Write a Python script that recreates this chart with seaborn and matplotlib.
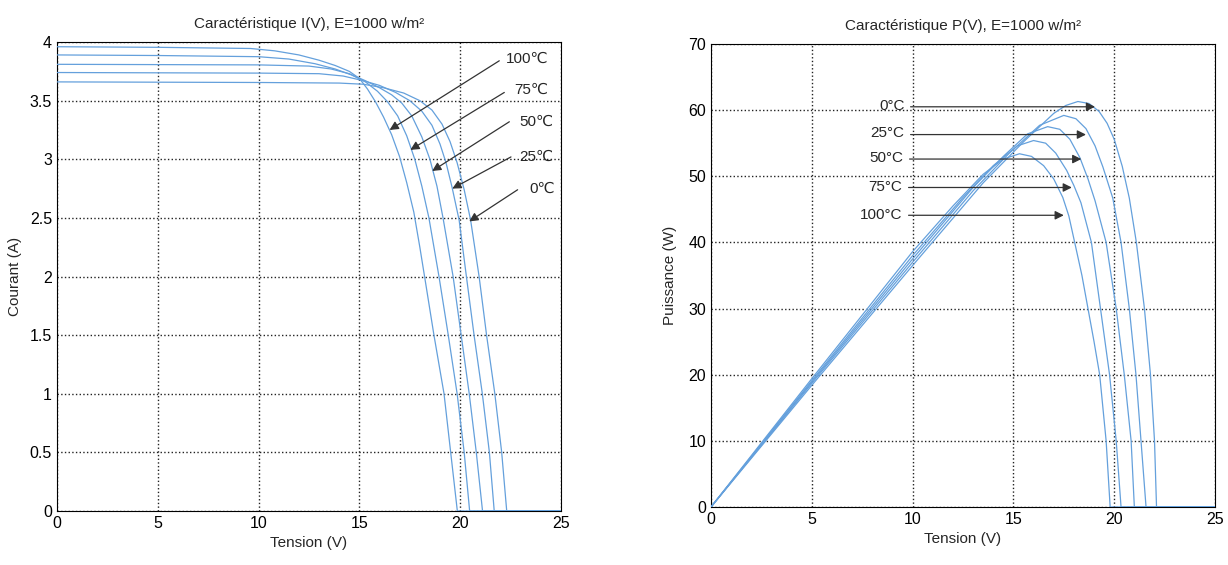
import numpy as np
import pandas as pd
import matplotlib
matplotlib.use("Agg")
import matplotlib.pyplot as plt
import seaborn as sns

# ==========================================
# DATA
# ==========================================
TEMPS = [0, 25, 50, 75, 100]

# I(V) curves, E = 1000 W/m2
IV_V_0 = [0, 10, 14, 15.2, 16.2, 17.2, 18.0, 18.6, 19.1, 19.5, 19.85, 20.2, 20.52, 20.94, 21.31, 21.72, 22.06, 22.31, 25]
IV_I_0 = [3.66, 3.655, 3.65, 3.64, 3.61, 3.565, 3.5, 3.42, 3.3, 3.15, 2.97, 2.74, 2.48, 2.0, 1.5, 1.0, 0.5, 0, 0]

IV_V_25 = [0, 10, 13, 14.2, 15.2, 16.0, 16.8, 17.5, 18.1, 18.6, 19.0, 19.3, 19.6, 19.95, 20.31, 20.69, 21.1, 21.45, 21.69, 25]
IV_I_25 = [3.74, 3.735, 3.73, 3.71, 3.67, 3.63, 3.57, 3.5, 3.41, 3.29, 3.13, 2.97, 2.76, 2.48, 2.0, 1.5, 1.0, 0.5, 0, 0]

IV_V_50 = [0, 10, 12.5, 13.6, 14.5, 15.3, 16.0, 16.6, 17.1, 17.6, 18.1, 18.5, 18.85, 19.15, 19.65, 20.05, 20.45, 20.8, 21.11, 25]
IV_I_50 = [3.81, 3.805, 3.795, 3.77, 3.73, 3.67, 3.61, 3.55, 3.48, 3.37, 3.19, 3.0, 2.77, 2.5, 2.0, 1.5, 1.0, 0.5, 0, 0]

IV_V_75 = [0, 5, 10, 11.5, 12.8, 13.8, 14.6, 15.3, 15.9, 16.4, 16.9, 17.35, 17.75, 18.1, 18.45, 18.95, 19.41, 19.85, 20.2, 20.47, 25]
IV_I_75 = [3.89, 3.885, 3.875, 3.855, 3.815, 3.77, 3.72, 3.66, 3.58, 3.49, 3.37, 3.2, 3.0, 2.77, 2.5, 2.0, 1.5, 1.0, 0.5, 0, 0]

IV_V_100 = [0, 5, 9.6, 10.8, 12, 13, 13.8, 14.5, 15.0, 15.4, 15.8, 16.2, 16.6, 17.0, 17.35, 17.7, 18.0, 18.3, 18.7, 19.2, 19.53, 19.86, 25]
IV_I_100 = [3.96, 3.955, 3.945, 3.925, 3.89, 3.845, 3.80, 3.75, 3.69, 3.60, 3.49, 3.36, 3.21, 3.02, 2.8, 2.55, 2.25, 1.93, 1.5, 1.0, 0.5, 0, 0]

# P(V) curves, E = 1000 W/m2
PV_V_0 = [0, 5, 10, 13.5, 15.5, 17, 17.6, 18.2, 18.75, 19.25, 19.65, 20.0, 20.4, 20.75, 21.1, 21.5, 21.8, 22.0, 22.1, 25]
PV_P_0 = [0, 18.4, 36.5, 49.0, 55.2, 59.5, 60.7, 61.3, 61.0, 59.8, 58.0, 55.6, 51.5, 46.7, 40, 30, 20, 10, 0, 0]

PV_V_25 = [0, 5, 10, 13, 14.8, 16.3, 17.5, 18.1, 18.6, 19.05, 19.44, 19.93, 20.34, 20.75, 21.08, 21.33, 21.58, 25]
PV_P_25 = [0, 18.7, 37.0, 47.8, 53.5, 57.7, 59.2, 58.7, 57.2, 54.6, 51.4, 46.7, 40, 30, 20, 10, 0, 0]

PV_V_50 = [0, 5, 10, 13, 14.5, 15.7, 16.7, 17.3, 17.8, 18.3, 18.7, 19.05, 19.6, 20.1, 20.5, 20.84, 21.0, 25]
PV_P_50 = [0, 18.9, 37.5, 48.3, 53.0, 56.4, 57.5, 57.1, 55.6, 52.8, 49.6, 46.3, 40, 30, 20, 10, 0, 0]

PV_V_75 = [0, 5, 10, 12.5, 14, 15.2, 16.0, 16.6, 17.1, 17.64, 18.0, 18.35, 18.87, 19.32, 19.77, 20.1, 20.34, 25]
PV_P_75 = [0, 19.1, 38.0, 46.8, 51.6, 54.6, 55.4, 55.0, 53.5, 50.9, 48.6, 46.0, 40, 30, 20, 10, 0, 0]

PV_V_100 = [0, 5, 10, 12, 13.5, 14.5, 15.3, 15.9, 16.5, 17.0, 17.45, 17.75, 18.04, 18.4, 18.7, 19.0, 19.28, 19.6, 19.8, 25]
PV_P_100 = [0, 19.4, 38.6, 45.5, 50.3, 52.6, 53.4, 53.0, 51.6, 49.6, 46.8, 44.0, 40, 35, 30, 25, 20, 10, 0, 0]

# annotation anchors (label position, arrow start, arrow tip) in data units
IV_LABELS = ['100℃', '75℃', '50℃', '25℃', '0℃']
IV_LABEL_XY = [(22.27, 3.86), (22.69, 3.59), (22.94, 3.32), (22.94, 3.02), (23.44, 2.75)]
IV_ARROW_FROM = [(21.94, 3.84), (22.19, 3.57), (22.44, 3.32), (22.52, 3.02), (22.85, 2.74)]
IV_ARROW_TO = [(16.5, 3.25), (17.53, 3.08), (18.61, 2.90), (19.61, 2.75), (20.45, 2.47)]

PV_LABELS = ['0°C', '25°C', '50°C', '75°C', '100°C']
PV_LABEL_XY = [(9.6, 60.6), (9.6, 56.5), (9.55, 52.7), (9.5, 48.3), (9.5, 44.2)]
PV_ARROW_FROM = [(9.9, 60.5), (9.9, 56.3), (9.85, 52.6), (9.8, 48.3), (9.8, 44.1)]
PV_ARROW_TO = [(19.05, 60.5), (18.6, 56.3), (18.37, 52.6), (17.9, 48.3), (17.5, 44.1)]

CURVE_COLOR = '#64a0dc'

# ==========================================
# BUILD LONG TABLES FOR SEABORN
# ==========================================
iv_sets = {0: (IV_V_0, IV_I_0), 25: (IV_V_25, IV_I_25), 50: (IV_V_50, IV_I_50),
           75: (IV_V_75, IV_I_75), 100: (IV_V_100, IV_I_100)}
pv_sets = {0: (PV_V_0, PV_P_0), 25: (PV_V_25, PV_P_25), 50: (PV_V_50, PV_P_50),
           75: (PV_V_75, PV_P_75), 100: (PV_V_100, PV_P_100)}

iv_rows = []
for t in TEMPS:
    for v, i in zip(*iv_sets[t]):
        iv_rows.append({'Tension': v, 'Courant': i, 'Temp': t})
df_iv = pd.DataFrame(iv_rows)

pv_rows = []
for t in TEMPS:
    for v, p in zip(*pv_sets[t]):
        pv_rows.append({'Tension': v, 'Puissance': p, 'Temp': t})
df_pv = pd.DataFrame(pv_rows)

# ==========================================
# PLOT
# ==========================================
sns.set_style("white")
plt.rcParams['font.family'] = ['Liberation Sans', 'DejaVu Sans']
plt.rcParams['font.size'] = 11

fig = plt.figure(figsize=(12.28, 5.65), dpi=100)
ax1 = fig.add_axes([0.0464, 0.0956, 0.4104, 0.830])
ax2 = fig.add_axes([0.579, 0.1027, 0.4104, 0.8195])

palette = {t: CURVE_COLOR for t in TEMPS}

sns.lineplot(data=df_iv, x='Tension', y='Courant', hue='Temp', palette=palette,
             estimator=None, sort=False, legend=False, linewidth=0.9, ax=ax1, zorder=3)
sns.lineplot(data=df_pv, x='Tension', y='Puissance', hue='Temp', palette=palette,
             estimator=None, sort=False, legend=False, linewidth=0.9, ax=ax2, zorder=3)

arrow_kw = dict(arrowstyle='-|>', color='#333333', lw=0.9, mutation_scale=13, shrinkA=0, shrinkB=0)

for ax in (ax1, ax2):
    ax.set_xlim(0, 25)
    ax.set_xticks([0, 5, 10, 15, 20, 25])
    ax.grid(True, linestyle=':', color='#222222', linewidth=1.0)
    ax.tick_params(direction='in', length=3, labelsize=11.5, colors='black')
    for s in ax.spines.values():
        s.set_color('black')
        s.set_linewidth(0.8)
    ax.set_xlabel('Tension (V)', fontsize=11, labelpad=4)

ax1.set_ylim(0, 4)
ax1.set_yticks(np.arange(0, 4.01, 0.5))
ax1.set_yticklabels(['0', '0.5', '1', '1.5', '2', '2.5', '3', '3.5', '4'])
ax1.set_ylabel('Courant (A)', fontsize=11, labelpad=6)
ax1.set_title('Caractéristique I(V), E=1000 w/m²', fontsize=11, pad=10)

ax2.set_ylim(0, 70)
ax2.set_yticks(range(0, 71, 10))
ax2.set_ylabel('Puissance (W)', fontsize=11, labelpad=8)
ax2.set_title('Caractéristique P(V), E=1000 w/m²', fontsize=11, pad=10)

for lab, xy, a0, a1 in zip(IV_LABELS, IV_LABEL_XY, IV_ARROW_FROM, IV_ARROW_TO):
    ax1.annotate('', xy=a1, xytext=a0, arrowprops=arrow_kw)
    ax1.text(xy[0], xy[1], lab, ha='left', va='center', fontsize=11)

for lab, xy, a0, a1 in zip(PV_LABELS, PV_LABEL_XY, PV_ARROW_FROM, PV_ARROW_TO):
    ax2.annotate('', xy=a1, xytext=a0, arrowprops=arrow_kw)
    ax2.text(xy[0], xy[1], lab, ha='right', va='center', fontsize=11)

plt.savefig('out.png', dpi=100)
plt.close()
